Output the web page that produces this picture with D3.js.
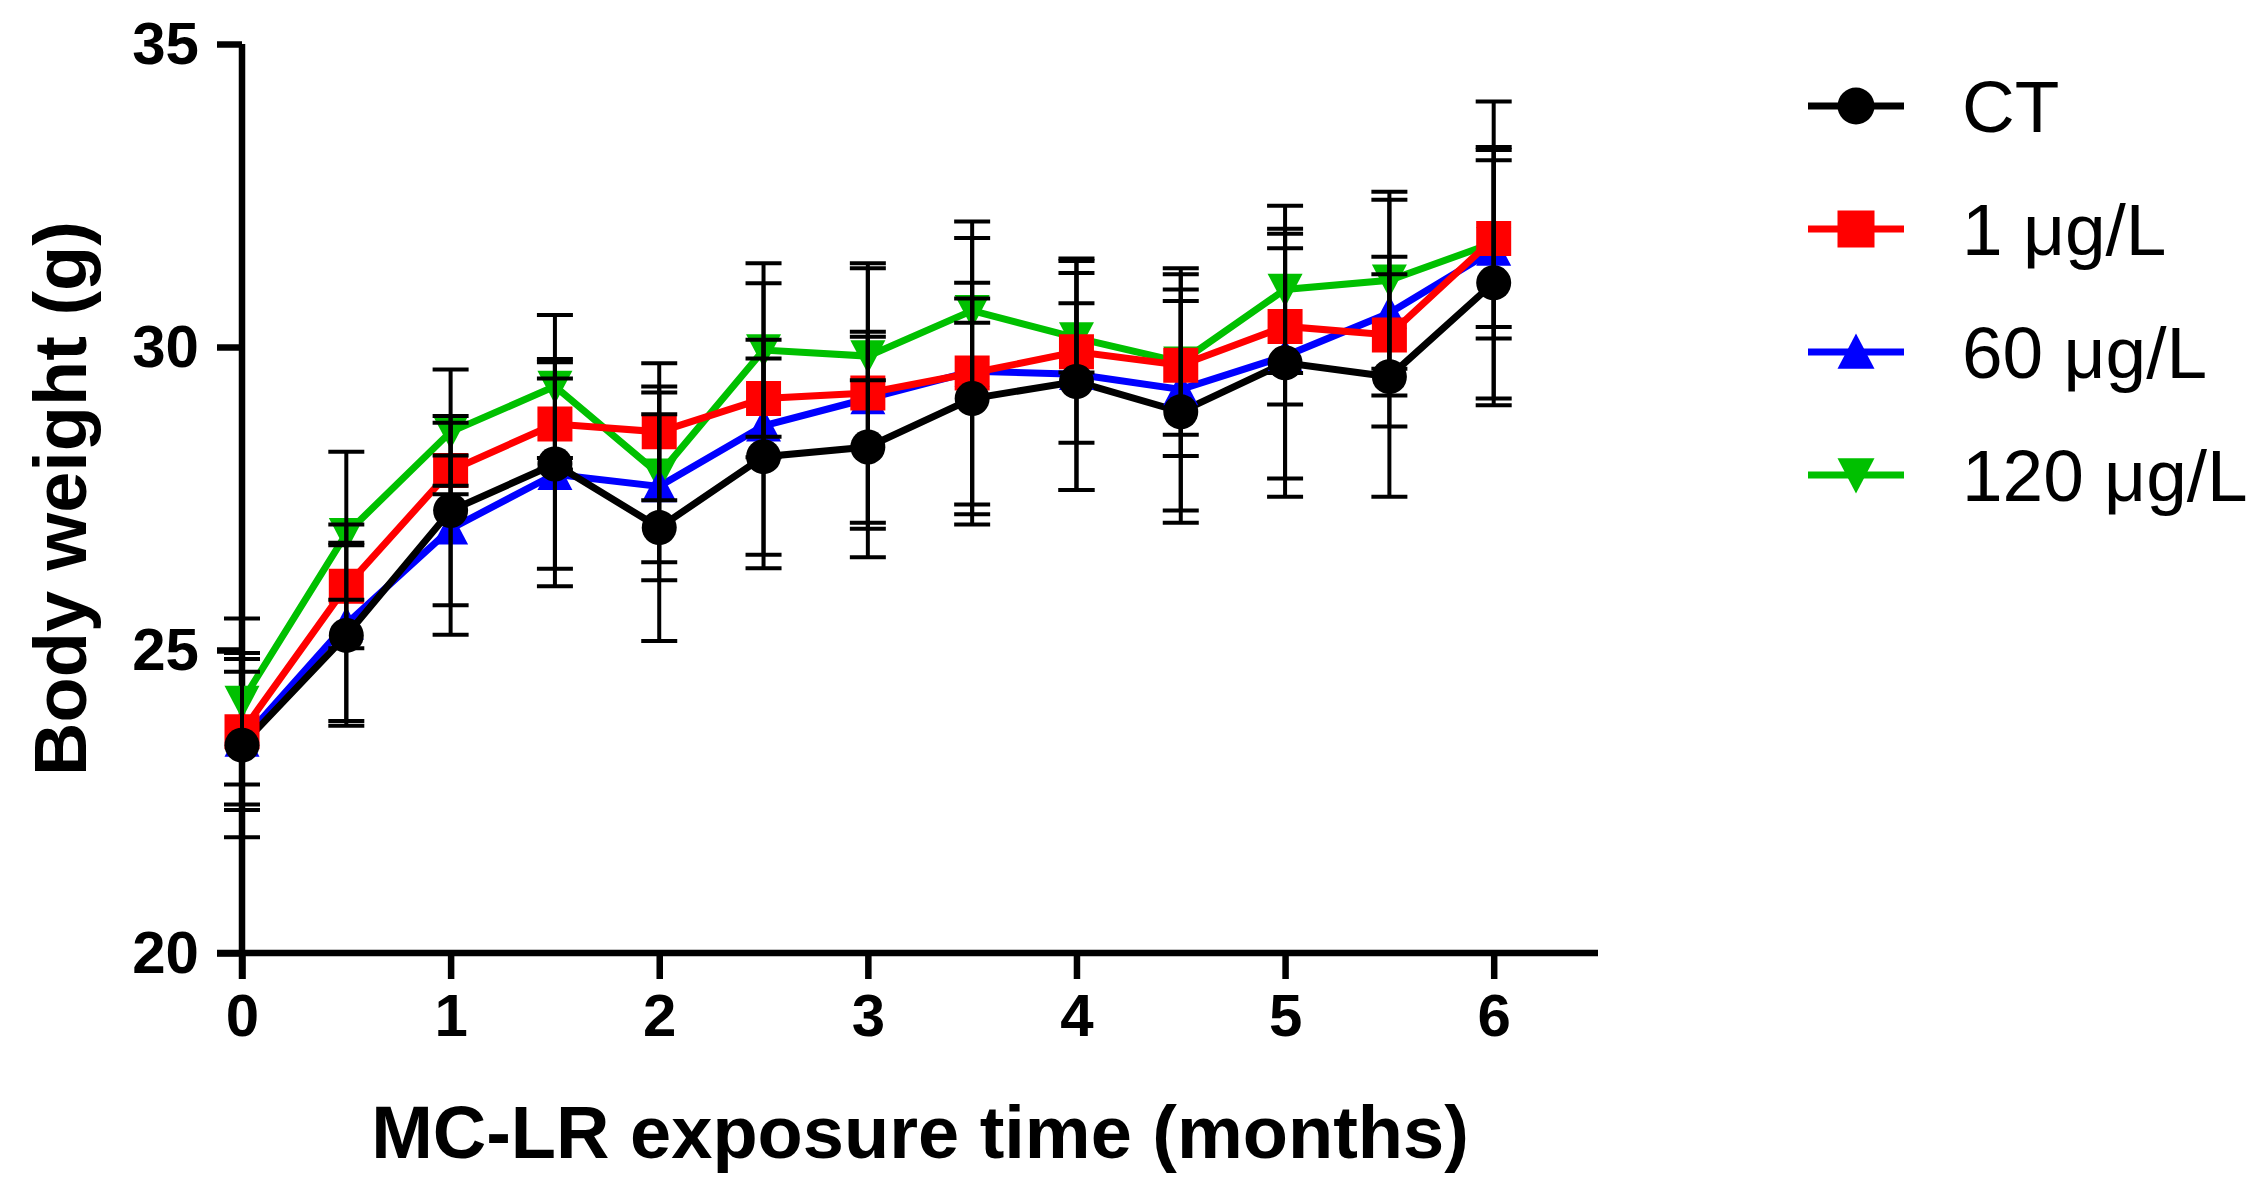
<!DOCTYPE html>
<html>
<head>
<meta charset="utf-8">
<script src="https://cdn.jsdelivr.net/npm/d3@7"></script>
<style>
	body { margin: 0; background: #fff; }
	text { font-family: Arial, "Liberation Sans", sans-serif; }
</style>
</head>
<body>
<script>
// exposure time (months)
let months = [0, 0.5, 1, 1.5, 2, 2.5, 3, 3.5, 4, 4.5, 5, 5.5, 6]

let ctMean = [23.43, 25.24, 27.30, 28.07, 27.02, 28.19, 28.35, 29.15, 29.43, 28.93, 29.74, 29.51, 31.06]
let ctSd   = [1.52, 1.49, 1.56, 1.73, 1.87, 1.62, 1.82, 1.91, 1.79, 1.83, 2.21, 1.98, 2.02]

let lowMean = [23.65, 26.05, 27.96, 28.73, 28.60, 29.15, 29.24, 29.57, 29.92, 29.70, 30.34, 30.20, 31.79]
let lowSd   = [1.20, 2.22, 0.25, 0.75, 1.13, 0.97, 2.14, 2.50, 1.50, 1.50, 1.29, 1.00, 1.46]

let midMean = [23.50, 25.43, 27.00, 27.90, 27.70, 28.70, 29.15, 29.60, 29.55, 29.30, 29.85, 30.56, 31.60]
let midSd   = [1.14, 0.40, 1.75, 1.85, 1.55, 2.35, 2.15, 2.20, 1.91, 2.00, 2.02, 1.87, 2.45]

let highMean = [24.15, 26.92, 28.60, 29.35, 27.90, 29.95, 29.85, 30.60, 30.15, 29.75, 30.95, 31.10, 31.72]
let highSd   = [1.37, 0.15, 1.03, 1.18, 1.45, 1.43, 0.40, 0.20, 0.57, 1.20, 1.38, 1.46, 1.58]

let xTicks = [0, 1, 2, 3, 4, 5, 6]
let yTicks = [20, 25, 30, 35]

// drawing order: bottom first, legend order is separate
let series = [
	{name: "120 μg/L", mean: highMean, sd: highSd, color: "#00c000", shape: "down"},
	{name: "60 μg/L", mean: midMean, sd: midSd, color: "#0000ff", shape: "up"},
	{name: "1 μg/L", mean: lowMean, sd: lowSd, color: "#ff0000", shape: "square"},
	{name: "CT", mean: ctMean, sd: ctSd, color: "#000000", shape: "circle"}
]
let legendOrder = ["CT", "1 μg/L", "60 μg/L", "120 μg/L"]

let svgWidth = 2262
let svgHeight = 1184

let svg = d3.select("body").append("svg").attr("width", svgWidth).attr("height", svgHeight)

let x = d3.scaleLinear().domain([0, 6.5]).range([242, 1598])
let y = d3.scaleLinear().domain([20, 35]).range([953, 44])

function shapePath(shape, s) {
	let h = s / 2
	if (shape == "circle") return d3.symbol(d3.symbolCircle, Math.PI * h * h)()
	if (shape == "square") return `M${-h},${-h}H${h}V${h}H${-h}Z`
	if (shape == "up") return `M0,${-h}L${h},${h * 0.9}L${-h},${h * 0.9}Z`
	return `M0,${h}L${h},${-h * 0.9}L${-h},${-h * 0.9}Z`
}

// axes
let xAxis = svg.append("g").attr("transform", `translate(0,${y(20)})`)
	.call(d3.axisBottom(x).tickValues(xTicks).tickSize(26).tickPadding(14).tickFormat(d3.format("d")))
let yAxis = svg.append("g").attr("transform", `translate(${x(0)},0)`)
	.call(d3.axisLeft(y).tickValues(yTicks).tickSize(25).tickPadding(18).tickFormat(d3.format("d")))

for (let ax of [xAxis, yAxis]) {
	ax.select(".domain").attr("stroke", "#000").attr("stroke-width", 6.5)
	ax.selectAll(".tick line").attr("stroke", "#000").attr("stroke-width", 6.5)
	ax.selectAll(".tick text").attr("fill", "#000").style("font-size", "60px").style("font-weight", "bold")
}
// extend the axis lines to the outer corner like the original
xAxis.select(".domain").attr("d", `M${x(0) - 25},0H${x(6.5)}`)
yAxis.select(".domain").attr("d", `M0,${y(20) + 26}V${y(35)}`)

// axis titles
svg.append("text").attr("x", (x(0) + x(6.5)) / 2).attr("y", 1158)
	.attr("text-anchor", "middle").style("font-size", "74px").style("font-weight", "bold")
	.text("MC-LR exposure time (months)")
svg.append("text").attr("transform", `translate(86,${(y(20) + y(35)) / 2}) rotate(-90)`)
	.attr("text-anchor", "middle").style("font-size", "74px").style("font-weight", "bold")
	.text("Body weight (g)")

let line = d3.line().x((d, i) => x(months[i])).y(d => y(d))

let lines = svg.append("g")
let marks = svg.append("g")
let bars = svg.append("g")

series.forEach(s => {
	lines.append("path").attr("d", line(s.mean)).attr("fill", "none")
		.attr("stroke", s.color).attr("stroke-width", 7).attr("stroke-linejoin", "miter")

	marks.selectAll(null).data(s.mean).enter().append("path")
		.attr("d", shapePath(s.shape, 35))
		.attr("transform", (d, i) => `translate(${x(months[i])},${y(d)})`)
		.attr("fill", s.color)

	let g = bars.selectAll(null).data(s.mean).enter().append("g")
		.attr("stroke", "#000").attr("stroke-width", 4)
	g.append("line")
		.attr("x1", (d, i) => x(months[i])).attr("x2", (d, i) => x(months[i]))
		.attr("y1", (d, i) => y(d + s.sd[i])).attr("y2", (d, i) => y(d - s.sd[i]))
	g.append("line")
		.attr("x1", (d, i) => x(months[i]) - 18).attr("x2", (d, i) => x(months[i]) + 18)
		.attr("y1", (d, i) => y(d + s.sd[i])).attr("y2", (d, i) => y(d + s.sd[i]))
	g.append("line")
		.attr("x1", (d, i) => x(months[i]) - 18).attr("x2", (d, i) => x(months[i]) + 18)
		.attr("y1", (d, i) => y(d - s.sd[i])).attr("y2", (d, i) => y(d - s.sd[i]))
})

// legend
let legend = svg.append("g").attr("transform", "translate(1808,106)")
legendOrder.forEach((name, k) => {
	let s = series.find(d => d.name == name)
	let row = legend.append("g").attr("transform", `translate(0,${k * 123})`)
	row.append("line").attr("x1", 0).attr("x2", 96).attr("y1", 0).attr("y2", 0)
		.attr("stroke", s.color).attr("stroke-width", 7)
	row.append("path").attr("d", shapePath(s.shape, 37)).attr("transform", "translate(48,0)").attr("fill", s.color)
	row.append("text").attr("x", 154).attr("y", 26).style("font-size", "73px").text(s.name)
})
</script>
</body>
</html>
